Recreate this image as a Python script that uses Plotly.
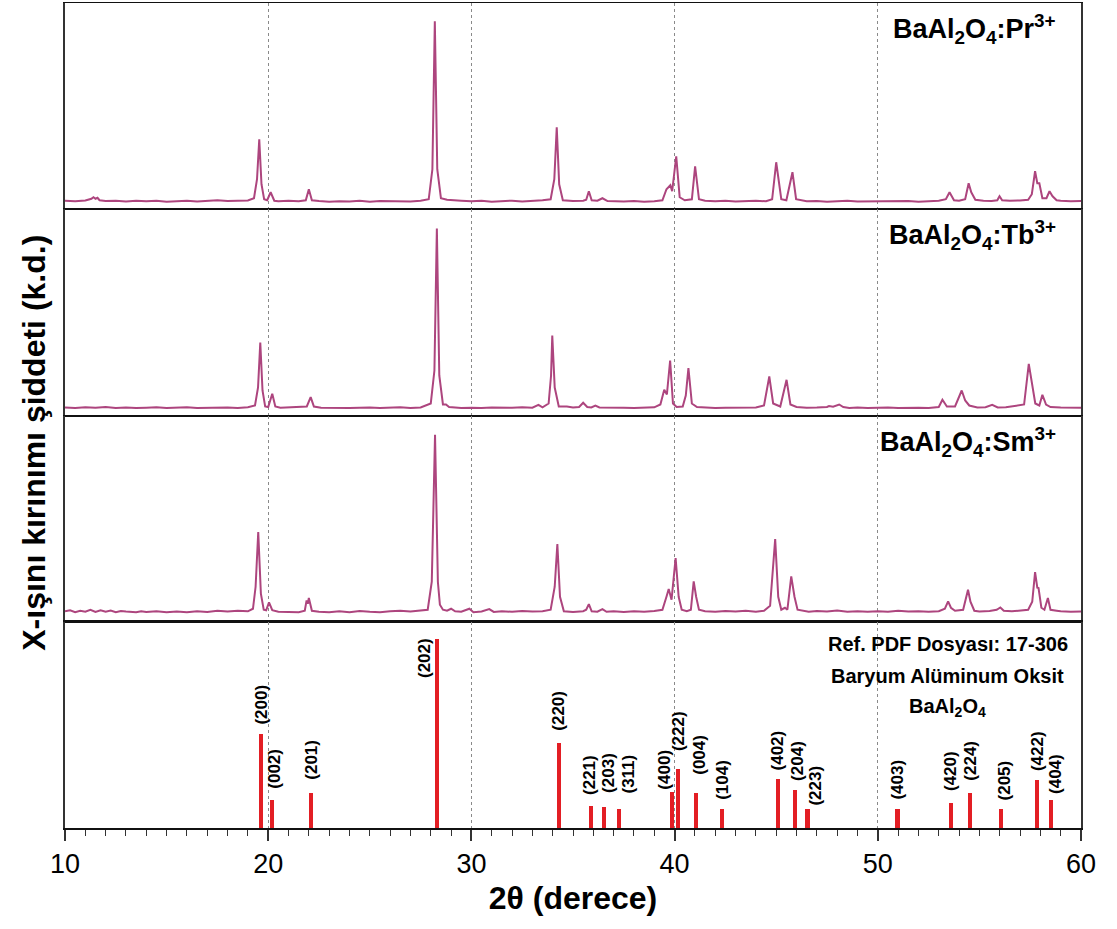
import plotly.graph_objects as go
from plotly.subplots import make_subplots

# ---------------- data ----------------
# BaAl2O4:Pr3+  (intensity in arbitrary units)
pr_2theta = [10.0, 10.5, 11.0, 11.3, 11.4, 11.5, 11.6, 11.7, 12.0, 12.5, 13.0, 13.5, 14.0, 14.5, 15.0, 15.5,
             16.0, 16.5, 17.0, 17.5, 18.0, 18.5, 19.0, 19.3, 19.45, 19.56, 19.67, 19.8, 19.95, 20.12, 20.3,
             20.5, 21.0, 21.5, 21.85, 22.0, 22.15, 22.5, 23.0, 23.5, 24.0, 24.5, 25.0, 25.5, 26.0, 26.5,
             27.0, 27.5, 27.9, 28.08, 28.2, 28.32, 28.5, 28.8, 29.0, 29.5, 30.0, 30.5, 31.0, 31.5, 32.0,
             32.5, 33.0, 33.5, 33.9, 34.08, 34.2, 34.32, 34.5, 35.0, 35.5, 35.65, 35.78, 35.92, 36.2, 36.45,
             36.7, 37.0, 37.5, 38.0, 38.5, 39.0, 39.4, 39.6, 39.79, 39.88, 40.08, 40.25, 40.5, 40.85, 41.01,
             41.2, 41.5, 42.0, 42.5, 43.0, 43.5, 44.0, 44.5, 44.8, 45.0, 45.12, 45.25, 45.5, 45.8, 45.98,
             46.3, 46.5, 47.0, 47.5, 48.0, 48.5, 49.0, 49.5, 50.0, 50.5, 51.0, 51.5, 52.0, 52.5, 53.0, 53.35,
             53.53, 53.75, 54.0, 54.3, 54.47, 54.6, 54.8, 55.2, 55.6, 55.88, 55.99, 56.12, 56.5, 57.0, 57.4,
             57.58, 57.74, 57.85, 57.95, 58.1, 58.3, 58.45, 58.6, 58.8, 59.0, 59.5, 60.0]
pr_intensity = [8.5, 8.0, 8.8, 10.5, 12, 10.5, 11.5, 9, 8.2, 8.6, 7.8, 8.4, 8.0, 8.6, 7.6, 8.2,
                8.5, 7.8, 8.4, 9.0, 8.2, 8.6, 8.8, 11, 30, 70, 25, 10, 9, 17, 8.5,
                8.0, 8.4, 8.0, 9, 20, 9, 8.2, 7.6, 8.0, 7.8, 8.4, 7.6, 8.2, 8.0, 8.4,
                7.8, 8.5, 10, 40, 188, 40, 11, 9.5, 9, 8.5, 8.0, 8.4, 7.6, 8.0, 8.6,
                7.8, 8.2, 9.0, 10, 30, 82, 25, 9, 8.2, 8.6, 9.5, 18, 9, 8.5, 11,
                8.2, 8.0, 7.8, 8.2, 7.6, 8.0, 9, 20, 24, 18, 53, 12, 9, 10, 43,
                10, 8.6, 8.0, 8.4, 7.8, 8.0, 8.6, 8.0, 10, 47, 30, 10, 9, 37, 10,
                8.4, 8.0, 8.2, 7.6, 8.0, 8.4, 7.8, 8.0, 7.8, 8.4, 8.0, 8.2, 7.6, 8.0, 8.4, 10,
                17, 9, 8.5, 10, 26, 17, 9.5, 8.5, 8.2, 9, 13, 9, 8.4, 8.8, 9.5,
                15, 38, 26, 26, 11, 11, 18, 13, 9, 8.4, 8.0, 8.2]

# BaAl2O4:Tb3+
tb_2theta = [10.0, 10.5, 11.0, 11.5, 12.0, 12.5, 13.0, 13.5, 14.0, 14.5, 15.0, 15.5, 16.0, 16.5, 17.0, 17.5,
             18.0, 18.5, 19.0, 19.35, 19.5, 19.61, 19.72, 19.85, 20.0, 20.2, 20.35, 20.6, 21.0, 21.5, 21.9,
             22.09, 22.25, 22.6, 23.0, 23.5, 24.0, 24.5, 25.0, 25.5, 26.0, 26.5, 27.0, 27.5, 28.0, 28.18,
             28.3, 28.42, 28.6, 28.75, 28.9, 29.2, 29.5, 30.0, 30.5, 31.0, 31.5, 32.0, 32.5, 33.0, 33.3,
             33.5, 33.8, 33.92, 33.98, 34.1, 34.3, 34.7, 35.0, 35.3, 35.5, 35.7, 35.9, 36.1, 36.3, 36.6,
             37.0, 37.5, 38.0, 38.5, 39.0, 39.3, 39.49, 39.62, 39.78, 39.92, 40.1, 40.4, 40.55, 40.68, 40.85,
             41.1, 41.5, 42.0, 42.5, 43.0, 43.5, 44.0, 44.4, 44.66, 44.85, 45.2, 45.51, 45.7, 46.0, 46.5,
             47.0, 47.5, 47.6, 47.8, 48.1, 48.3, 48.6, 49.0, 49.5, 50.0, 50.5, 51.0, 51.5, 52.0, 52.5, 53.0,
             53.18, 53.4, 53.8, 54.13, 54.3, 54.5, 54.9, 55.3, 55.63, 55.9, 56.3, 56.8, 57.2, 57.43, 57.6,
             57.75, 57.95, 58.1, 58.28, 58.5, 59.0, 59.5, 60.0]
tb_intensity = [8.0, 7.5, 8.2, 7.8, 8.5, 7.6, 8.0, 7.4, 7.8, 8.2, 7.5, 7.8, 8.3, 7.6, 7.9, 7.5,
                8.0, 7.6, 8.2, 10, 28, 73, 25, 9, 8.5, 21.7, 9, 7.8, 8.0, 8.6, 9,
                18.3, 9, 7.8, 7.6, 8.0, 7.4, 7.8, 8.1, 7.5, 7.8, 8.2, 7.6, 8.0, 12, 45,
                187, 40, 11, 11, 8.5, 8, 7.6, 7.8, 7.5, 8.0, 7.6, 7.8, 8.2, 7.8, 10.7,
                8.2, 12, 40, 80, 28, 9, 9, 8.0, 8.5, 12.7, 8.5, 8, 10, 8, 7.8,
                7.5, 7.8, 7.6, 7.9, 8.2, 11, 25.7, 21, 55, 12, 8.5, 9, 20, 47.3, 12,
                8.5, 8.0, 7.6, 7.8, 8.0, 7.6, 8.0, 10, 39, 12, 9, 35.7, 11, 8.5, 7.8,
                8.0, 8.5, 9.5, 8.8, 11, 8.5, 7.6, 7.9, 7.5, 7.8, 8.0, 7.6, 7.9, 7.8, 7.5, 8.5,
                15.7, 9, 9, 25, 15, 10, 8, 8.2, 10.7, 8, 8.2, 9.5, 11, 51.7, 28.3,
                12, 10, 20.7, 11, 8.5, 8, 7.6, 7.8]

# BaAl2O4:Sm3+
sm_2theta = [10.0, 10.25, 10.5, 10.75, 11.0, 11.25, 11.5, 11.75, 12.0, 12.25, 12.5, 12.75, 13.0, 13.5, 13.75,
             14.0, 14.5, 15.0, 15.5, 16.0, 16.5, 17.0, 17.5, 18.0, 18.5, 19.0, 19.25, 19.38, 19.51, 19.64,
             19.78, 19.9, 20.04, 20.2, 20.5, 21.0, 21.5, 21.8, 21.89, 21.95, 22.0, 22.15, 22.5, 23.0, 23.5,
             24.0, 24.5, 25.0, 25.5, 26.0, 26.5, 27.0, 27.5, 27.85, 28.05, 28.21, 28.35, 28.45, 28.6, 28.8,
             29.0, 29.2, 29.5, 29.9, 30.1, 30.5, 30.88, 31.1, 31.5, 32.0, 32.5, 33.0, 33.5, 33.9, 34.1,
             34.23, 34.36, 34.55, 35.0, 35.5, 35.65, 35.78, 35.92, 36.2, 36.45, 36.65, 37.0, 37.5, 38.0, 38.5,
             39.0, 39.4, 39.6, 39.71, 39.85, 40.05, 40.2, 40.35, 40.6, 40.8, 40.94, 41.06, 41.2, 41.5, 42.0,
             42.5, 43.0, 43.5, 44.0, 44.4, 44.7, 44.95, 45.1, 45.25, 45.43, 45.55, 45.74, 45.9, 46.05, 46.3,
             46.6, 47.0, 47.5, 48.0, 48.5, 49.0, 49.5, 50.0, 50.5, 51.0, 51.5, 52.0, 52.5, 53.0, 53.3, 53.46,
             53.6, 53.8, 54.2, 54.44, 54.56, 54.75, 55.0, 55.5, 55.85, 56.03, 56.2, 56.6, 57.0, 57.4, 57.6,
             57.74, 57.85, 57.91, 58.05, 58.2, 58.37, 58.5, 58.8, 59.0, 59.5, 60.0]
sm_intensity = [10.5, 11.5, 9.5, 11, 10, 12, 9.8, 11.5, 10, 11.2, 9.6, 10.8, 10.2, 9.5, 10.6,
                9.8, 10.4, 9.6, 10.2, 9.4, 10.5, 9.8, 11, 10.2, 11, 10.4, 13, 35, 89.7, 28,
                12, 11.5, 19.3, 11.5, 10, 9.8, 9.6, 11, 21.3, 18, 23.7, 11, 10, 9.5, 10.4,
                9.6, 10.8, 10, 9.5, 10.4, 11, 10.2, 11.5, 12, 40, 187, 40, 17, 12, 11,
                13, 10.5, 10, 13, 9.5, 10.2, 12.7, 9.8, 10.6, 10, 10.8, 10.2, 10.4, 12, 35,
                77.7, 25, 10.5, 9.8, 10.6, 12, 17.7, 10.5, 10, 12.7, 10, 10.4, 9.8, 10.6, 10,
                10.8, 12, 25, 32.7, 22, 63.7, 25, 12, 10.5, 12, 40.3, 25, 12, 10.5, 10,
                10.8, 10.2, 11, 10, 11, 16, 82.7, 25, 12, 14, 12, 45.3, 25, 12, 11,
                10, 10.8, 10.2, 11.2, 10, 10.6, 10, 10.4, 10, 11, 10.2, 10.6, 10, 10.6, 13, 20.3,
                14, 11, 12, 32, 20, 11, 10.2, 10.8, 12, 14.3, 11, 10.4, 11.5, 12, 20,
                49.7, 34, 33.7, 14, 12, 23.7, 12, 11, 10.4, 10, 10.2]

# Reference pattern PDF 17-306 (relative intensity, %)
ref_2theta = [19.65, 20.19, 22.09, 28.31, 34.30, 35.87, 36.51, 37.26, 39.85, 40.15, 41.04,
              42.32, 45.07, 45.91, 46.54, 50.97, 53.58, 54.52, 56.08, 57.85, 58.54]
ref_intensity = [50, 15, 18.5, 100, 45, 12, 11, 10, 19, 31.5, 18.5,
                 10, 26, 20, 10, 10, 13.5, 18.5, 10, 25.5, 15]
ref_hkl = ["(200)", "(002)", "(201)", "(202)", "(220)", "(221)", "(203)", "(311)", "(400)", "(222)", "(004)",
           "(104)", "(402)", "(204)", "(223)", "(403)", "(420)", "(224)", "(205)", "(422)", "(404)"]

sample_labels = ["BaAl<sub>2</sub>O<sub>4</sub>:Pr<sup>3+</sup>",
                 "BaAl<sub>2</sub>O<sub>4</sub>:Tb<sup>3+</sup>",
                 "BaAl<sub>2</sub>O<sub>4</sub>:Sm<sup>3+</sup>"]
ref_text = ["Ref. PDF Dosyası: 17-306", "Baryum Alüminum Oksit", "BaAl<sub>2</sub>O<sub>4</sub>"]

# ---------------- label placement (pixel offsets) ----------------
label_dx = [0, 3, 0, -12, 0, -1, 5, 10, -7, 1, 3, 0, 0, 2, 8, 0, 0, 0, 3, 0, 4]
label_gap = [7, 9, 11, 0, 10, 8, 12, 14, 0, 15, 16, 7, 6, 7, 2, 7, 9, 10, 7, 7, 4]

FONT = "Liberation Sans, Arial, sans-serif"
CURVE = "#ad457e"
RED = "#e31e24"

fig = make_subplots(rows=4, cols=1, shared_xaxes=True, vertical_spacing=0)

for r, (xx, yy) in enumerate([(pr_2theta, pr_intensity), (tb_2theta, tb_intensity), (sm_2theta, sm_intensity)], start=1):
    fig.add_trace(go.Scatter(x=xx, y=yy, mode="lines", line=dict(color=CURVE, width=2),
                             showlegend=False, hoverinfo="skip"), row=r, col=1)

fig.add_trace(go.Bar(x=ref_2theta, y=ref_intensity, width=0.2, marker=dict(color=RED, line=dict(width=0)),
                     showlegend=False), row=4, col=1)

for r in range(1, 5):
    fig.update_xaxes(range=[10, 60], showgrid=True, gridcolor="#8a8a8a", griddash="dot", gridwidth=1,
                     tick0=10, dtick=10, showline=True, mirror=True, linecolor="#111", linewidth=1.2,
                     zeroline=False, row=r, col=1)
    fig.update_yaxes(showticklabels=False, ticks="", showgrid=False, zeroline=False, showline=True,
                     mirror=True, linecolor="#333", linewidth=1.5, row=r, col=1)
for r in range(1, 4):
    fig.update_yaxes(range=[0, 206.25], row=r, col=1)
    fig.update_xaxes(ticks="", showticklabels=False, row=r, col=1)
fig.update_yaxes(range=[0, 109.1], row=4, col=1)
fig.update_xaxes(ticks="outside", ticklen=11, tickwidth=1.5, tickcolor="#333", linewidth=1.5,
                 minor=dict(dtick=1, ticks="outside", ticklen=6, tickwidth=1, tickcolor="#333", showgrid=False),
                 showticklabels=True, tickfont=dict(family=FONT, size=27, color="black"),
                 title=dict(text="2θ (derece)", font=dict(family=FONT, size=32, color="black", weight="bold"),
                            standoff=8),
                 row=4, col=1)

annotations = []
for i, lab in enumerate(sample_labels):
    ax = "" if i == 0 else str(i + 1)
    annotations.append(dict(text=lab, xref=f"x{ax} domain", yref=f"y{ax} domain", x=0.977, y=0.975,
                            xanchor="right", yanchor="top", showarrow=False,
                            font=dict(family=FONT, size=27, color="black", weight="bold")))

for i, hkl in enumerate(ref_hkl):
    if hkl == "(202)":
        annotations.append(dict(text=hkl, x=ref_2theta[i], y=ref_intensity[i], xref="x4", yref="y4",
                                textangle=-90, xanchor="center", yanchor="top", xshift=label_dx[i], yshift=3,
                                showarrow=False, font=dict(family=FONT, size=17, color="black", weight="bold")))
    else:
        annotations.append(dict(text=hkl, x=ref_2theta[i], y=ref_intensity[i], xref="x4", yref="y4",
                                textangle=-90, xanchor="center", yanchor="bottom", xshift=label_dx[i],
                                yshift=label_gap[i], showarrow=False,
                                font=dict(family=FONT, size=17, color="black", weight="bold")))

for j, (t, yy) in enumerate(zip(ref_text, [0.893, 0.738, 0.583])):
    annotations.append(dict(text=t, xref="x4 domain", yref="y4 domain", x=0.869, y=yy, xanchor="center",
                            yanchor="middle", showarrow=False,
                            font=dict(family=FONT, size=20, color="black", weight="bold")))

annotations.append(dict(text="X-ışını kırınımı şiddeti (k.d.)", xref="paper", yref="paper", x=0, y=0.467,
                        xshift=-31, xanchor="center", yanchor="middle", textangle=-90, showarrow=False,
                        font=dict(family=FONT, size=32, color="black", weight="bold")))

fig.update_layout(width=1117, height=929, margin=dict(l=65, r=36, t=3, b=101),
                  plot_bgcolor="white", paper_bgcolor="white", annotations=annotations, bargap=0)

fig.write_html("out.html")
